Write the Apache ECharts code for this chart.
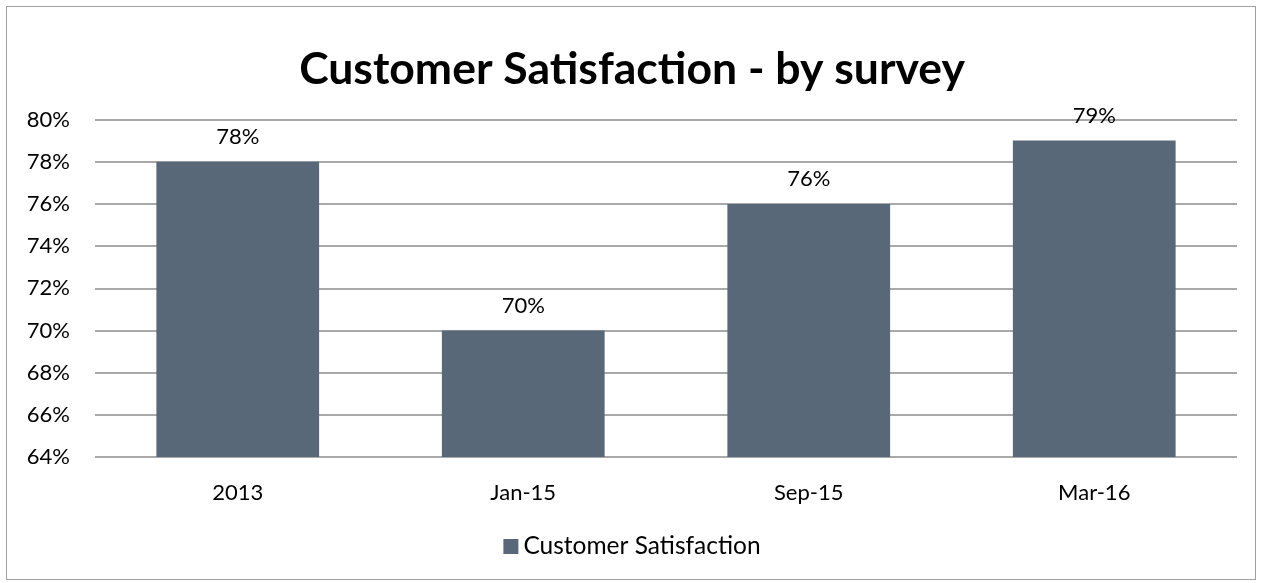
<!DOCTYPE html>
<html><head><meta charset="utf-8">
<script src="https://cdn.jsdelivr.net/npm/echarts@6/dist/echarts.min.js"></script>
<style>html,body{margin:0;padding:0;background:#fff}#c{width:1264px;height:583px}
#b{position:absolute;left:6px;top:6px;width:1250px;height:574px;border:1.5px solid #a0a0a0;box-sizing:border-box;pointer-events:none}</style>
</head><body><div id="c"></div><div id="b"></div>
<script>
const categories = ['2013', 'Jan-15', 'Sep-15', 'Mar-16'];
const satisfaction = [78, 70, 76, 79];
const seriesName = 'Customer Satisfaction';
const chart = echarts.init(document.getElementById('c'));
const F = 'Lato, "Open Sans", sans-serif';
chart.setOption({
  animation: false,
  title: { text: 'Customer Satisfaction - by survey', left: 'center', top: 42,
    textStyle: { fontFamily: F, fontWeight: 'bold', fontSize: 44.5, color: '#000' } },
  legend: { bottom: 19, left: 'center', itemWidth: 15, itemHeight: 15, icon: 'rect', itemGap: 8,
    textStyle: { fontFamily: F, fontSize: 24.5, color: '#000' } },
  grid: { left: 95, right: 27, top: 119.5, bottom: 126, containLabel: false },
  xAxis: { type: 'category', data: categories,
    axisLine: { show: false }, axisTick: { show: false },
    axisLabel: { fontFamily: F, fontSize: 22, color: '#000', margin: 25 } },
  yAxis: { type: 'value', min: 64, max: 80, interval: 2,
    axisLine: { show: false }, axisTick: { show: false },
    splitLine: { lineStyle: { color: '#8c8c8c', width: 1.5 } },
    axisLabel: { fontFamily: F, fontSize: 22, color: '#000', margin: 25, formatter: v => v + '%' } },
  series: [{ name: seriesName, type: 'bar', data: satisfaction, barCategoryGap: '43%',
    itemStyle: { color: '#586878' },
    label: { show: true, position: 'top', distance: 14, formatter: p => p.value + '%',
      fontFamily: F, fontSize: 22, color: '#000' } }]
});
</script></body></html>
